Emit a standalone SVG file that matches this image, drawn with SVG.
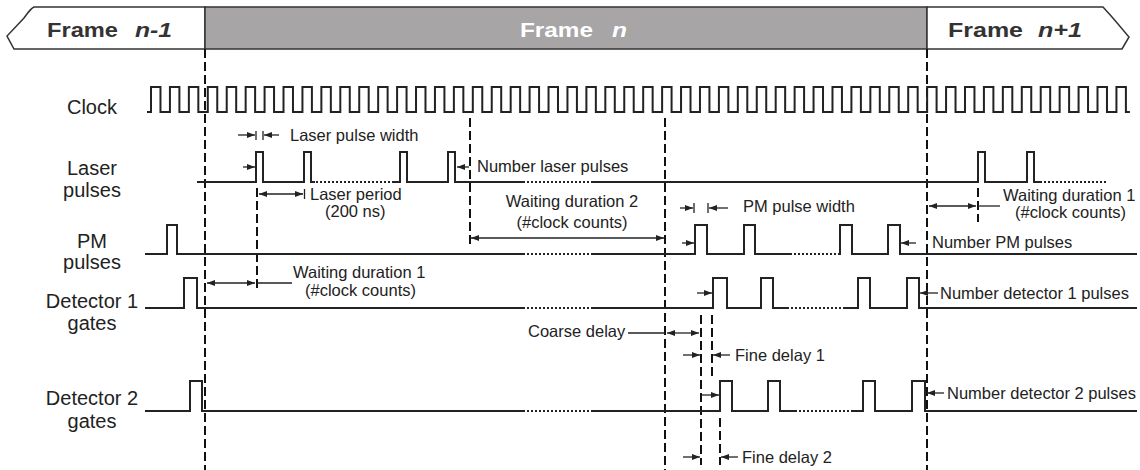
<svg xmlns="http://www.w3.org/2000/svg" width="1140" height="470" viewBox="0 0 1140 470">
<defs>
<marker id="ah" viewBox="0 0 8 6" refX="8" refY="3" markerWidth="8" markerHeight="6" markerUnits="userSpaceOnUse" orient="auto-start-reverse"><path d="M0,0 L8,3 L0,6 Z" fill="#222"/></marker>
</defs>
<style>
.sig{fill:none;stroke:#222;stroke-width:2;stroke-linejoin:miter}
.dot{fill:none;stroke:#222;stroke-width:2;stroke-dasharray:2 2}
.dash{fill:none;stroke:#111;stroke-width:2;stroke-dasharray:9 4}
.arr{fill:none;stroke:#222;stroke-width:1.3;marker-end:url(#ah)}
.darr{fill:none;stroke:#222;stroke-width:1.3;marker-start:url(#ah);marker-end:url(#ah)}
.ln{fill:none;stroke:#222;stroke-width:1.3}
.lbl{font-family:"Liberation Sans",Arial,sans-serif;font-size:20px;fill:#222;text-anchor:middle}
.ann{font-family:"Liberation Sans",Arial,sans-serif;font-size:16.5px;fill:#222}
.mid{text-anchor:middle}
.hdr{font-family:"Liberation Sans",Arial,sans-serif;font-size:20px;font-weight:bold;fill:#333}
.it{font-style:italic}
.frm{stroke:#333;stroke-width:1.5}
</style>
<g id="header">
<path class="frm" d="M205,7 H34 C30,9 27,14 24,18 L7,36 L14,49 H205 Z" fill="#fff"/>
<rect class="frm" x="205" y="7" width="722" height="42" fill="#a7a5a6"/>
<path class="frm" d="M927,7 H1103 L1112,17 L1118,24 L1129,37 L1122,49 H927 Z" fill="#fff"/>
<text class="hdr" x="47" y="37" textLength="71" lengthAdjust="spacingAndGlyphs">Frame</text>
<text class="hdr it" x="135" y="37" textLength="37" lengthAdjust="spacingAndGlyphs">n-1</text>
<text class="hdr" x="520" y="37" style="fill:#fff" textLength="73" lengthAdjust="spacingAndGlyphs">Frame</text>
<text class="hdr it" x="612" y="37" style="fill:#fff" textLength="15" lengthAdjust="spacingAndGlyphs">n</text>
<text class="hdr" x="948" y="37" textLength="75" lengthAdjust="spacingAndGlyphs">Frame</text>
<text class="hdr it" x="1038" y="37" textLength="44" lengthAdjust="spacingAndGlyphs">n+1</text>
</g>
<g id="frame-boundaries">
<path class="dash" d="M205,49 V470 M927,49 V470 M665,118 V470 M470,118 V247 M257,188 V290 M978,188 V222 M701,315 V465 M712,315 V377 M720,418 V465"/>
</g>
<g id="row-clock">
<text class="lbl" x="92" y="114">Clock</text>
<path class="sig" d="M147,112 H151 v-25h9.465v25h9.465v-25h9.465v25h9.465v-25h9.465v25h9.465v-25h9.465v25h9.465v-25h9.465v25h9.465v-25h9.465v25h9.465v-25h9.465v25h9.465v-25h9.465v25h9.465v-25h9.465v25h9.465v-25h9.465v25h9.465v-25h9.465v25h9.465v-25h9.465v25h9.465v-25h9.465v25h9.465v-25h9.465v25h9.465v-25h9.465v25h9.465v-25h9.465v25h9.465v-25h9.465v25h9.465v-25h9.465v25h9.465v-25h9.465v25h9.465v-25h9.465v25h9.465v-25h9.465v25h9.465v-25h9.465v25h9.465v-25h9.465v25h9.465v-25h9.465v25h9.465v-25h9.465v25h9.465v-25h9.465v25h9.465v-25h9.465v25h9.465v-25h9.465v25h9.465v-25h9.465v25h9.465v-25h9.465v25h9.465v-25h9.465v25h9.465v-25h9.465v25h9.465v-25h9.465v25h9.465v-25h9.465v25h9.465v-25h9.465v25h9.465v-25h9.465v25h9.465v-25h9.465v25h9.465v-25h9.465v25h9.465v-25h9.465v25h9.465v-25h9.465v25h9.465v-25h9.465v25h9.465v-25h9.465v25h9.465v-25h9.465v25h9.465v-25h9.465v25h9.465v-25h9.465v25h9.465v-25h9.465v25h9.465v-25h9.465v25h9.465v-25h9.465v25h9.465v-25h9.465v25h9.465v-25h9.465v25h9.465v-25h9.465v25h9.465v-25h9.465v25h4"/>
</g>
<g id="row-laser">
<text class="lbl" x="92" y="175">Laser</text>
<text class="lbl" x="92" y="197">pulses</text>
<path class="sig" d="M197,182 H256 V152 H263 V182 H304 V152 H311 V182 H315 M393,182 H400 V152 H407 V182 H448 V152 H455 V182 H523 M593,182 H978 V152 H985 V182 H1027 V152 H1034 V182 H1040"/>
<path class="dot" d="M316,182 H393 M523,182 H593 M1040,182 H1108"/>
</g>
<g id="row-pm">
<text class="lbl" x="92" y="248">PM</text>
<text class="lbl" x="92" y="269">pulses</text>
<path class="sig" d="M145,254 H167 V225 H177 V254 H523 M593,254 H695 V225 H707 V254 H744 V225 H755 V254 H790 M838,254 H840 V225 H852 V254 H888 V225 H900 V254 H1137"/>
<path class="dot" d="M523,254 H593 M790,254 H838"/>
</g>
<g id="row-detector1">
<text class="lbl" x="92" y="308">Detector 1</text>
<text class="lbl" x="92" y="330">gates</text>
<path class="sig" d="M145,308 H184 V278 H197 V308 H523 M593,308 H713 V278 H727 V308 H761 V278 H773 V308 H787 M843,308 H858 V278 H870 V308 H907 V278 H919 V308 H1137"/>
<path class="dot" d="M523,308 H593 M787,308 H843"/>
</g>
<g id="row-detector2">
<text class="lbl" x="92" y="405">Detector 2</text>
<text class="lbl" x="92" y="428">gates</text>
<path class="sig" d="M145,411 H190 V381 H202 V411 H523 M593,411 H720 V381 H732 V411 H768 V381 H780 V411 H795 M853,411 H863 V381 H875 V411 H912 V381 H925 V411 H1137"/>
<path class="dot" d="M523,411 H593 M795,411 H853"/>
</g>
<g id="connectors">
<path class="arr" d="M238,135 H255"/>
<path class="ln" d="M256,131 V140 M263,131 V140"/>
<path class="arr" d="M279,135 H264"/>
<path class="arr" d="M243,167 H255"/>
<path class="darr" d="M259,194 H303"/>
<path class="ln" d="M304.5,189 V199"/>
<path class="arr" d="M469,167 H457"/>
<path class="darr" d="M471,238 H664"/>
<path class="arr" d="M680,208 H693"/>
<path class="ln" d="M694,203 V213 M708,203 V213"/>
<path class="arr" d="M728,208 H709"/>
<path class="arr" d="M682,243 H694"/>
<path class="arr" d="M916,243 H901"/>
<path class="darr" d="M929,206 H976"/>
<path class="ln" d="M978,206 H1000"/>
<path class="darr" d="M207,283 H255"/>
<path class="ln" d="M257,283 H292"/>
<path class="arr" d="M697,293 H712"/>
<path class="arr" d="M938,293 H920"/>
<path class="ln" d="M628,333 H665"/>
<path class="darr" d="M667,333 H699"/>
<path class="arr" d="M683,355 H700"/>
<path class="arr" d="M730,355 H713"/>
<path class="arr" d="M702,395 H719"/>
<path class="arr" d="M944,393 H927"/>
<path class="arr" d="M683,457 H700"/>
<path class="arr" d="M738,457 H721"/>
</g>
<g id="annotations">
<text class="ann" x="290" y="141">Laser pulse width</text>
<text class="ann" x="310" y="200">Laser period</text>
<text class="ann" x="325" y="217">(200 ns)</text>
<text class="ann" x="477" y="172">Number laser pulses</text>
<text class="ann mid" x="572" y="207">Waiting duration 2</text>
<text class="ann mid" x="572" y="228">(#clock counts)</text>
<text class="ann" x="743" y="212">PM pulse width</text>
<text class="ann" x="1003" y="201">Waiting duration 1</text>
<text class="ann" x="1015" y="218">(#clock counts)</text>
<text class="ann" x="932" y="248">Number PM pulses</text>
<text class="ann" x="293" y="278">Waiting duration 1</text>
<text class="ann" x="305" y="296">(#clock counts)</text>
<text class="ann" x="940" y="299">Number detector 1 pulses</text>
<text class="ann" x="528" y="337">Coarse delay</text>
<text class="ann" x="735" y="361">Fine delay 1</text>
<text class="ann" x="947" y="399">Number detector 2 pulses</text>
<text class="ann" x="742" y="463">Fine delay 2</text>
</g>
</svg>
